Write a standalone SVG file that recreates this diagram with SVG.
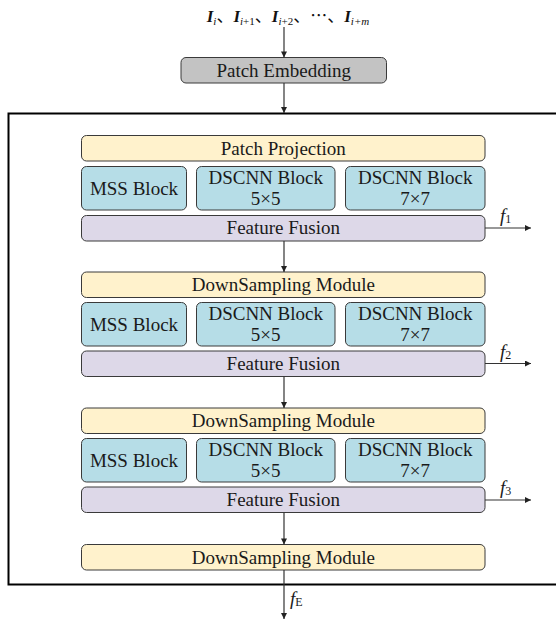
<svg xmlns="http://www.w3.org/2000/svg" width="556" height="620" viewBox="0 0 556 620">
  <style>
    text { font-family: 'Liberation Serif', 'DejaVu Serif', serif; }
    .lbl { font-size: 19px; fill: #1a1a1a; text-anchor: middle; }
    .seq { font-family: 'Liberation Serif', 'Noto Sans CJK SC', serif; font-size: 17px; fill: #111; }
    .fl { font-size: 19px; fill: #1a1a1a; }
    .box { stroke: #3a3a3a; stroke-width: 1; }
    .gray { fill: #c3c3c3; }
    .yel { fill: #fff2cc; }
    .blu { fill: #b6dde7; }
    .lav { fill: #ddd8e8; }
    .wire { stroke: #333; stroke-width: 1.2; fill: none; marker-end: url(#ah); }
  </style>
  <defs>
    <marker id="ah" viewBox="0 0 10 10" refX="10" refY="5" markerUnits="userSpaceOnUse" markerWidth="7" markerHeight="6" orient="auto">
      <path d="M0,0 L10,5 L0,10 z" fill="#222"/>
    </marker>
  </defs>
  <rect width="556" height="620" fill="#fff"/>

  <!-- input frame sequence -->
  <g id="input">
    <text class="seq" x="288" y="22" text-anchor="middle"><tspan font-weight="bold" font-style="italic">I</tspan><tspan font-size="11" font-style="italic" dy="3">i</tspan><tspan dy="-3">、</tspan><tspan font-weight="bold" font-style="italic">I</tspan><tspan font-size="11" dy="3"><tspan font-style="italic">i</tspan>+1</tspan><tspan dy="-3">、</tspan><tspan font-weight="bold" font-style="italic">I</tspan><tspan font-size="11" dy="3"><tspan font-style="italic">i</tspan>+2</tspan><tspan dy="-3">、⋯、</tspan><tspan font-weight="bold" font-style="italic">I</tspan><tspan font-size="11" font-style="italic" dy="3">i+m</tspan></text>
  </g>

  <!-- outer encoder frame -->
  <rect x="8.5" y="113.5" width="550" height="471" fill="none" stroke="#000" stroke-width="2"/>

  <g id="patch-embedding">
    <rect class="box gray" x="181" y="57.5" width="205.5" height="25.5" rx="5"/>
    <text class="lbl" x="283.7" y="76.5">Patch Embedding</text>
  </g>

  <!-- stage 1 -->
  <g id="patch-projection">
    <rect class="box yel" x="81.5" y="135.5" width="403.5" height="25.5" rx="5"/>
    <text class="lbl" x="283.3" y="154.5">Patch Projection</text>
  </g>
  <g id="mss-1">
    <rect class="box blu" x="81.5" y="166.5" width="105" height="43.5" rx="5"/>
    <text class="lbl" x="134" y="194.5">MSS Block</text>
  </g>
  <g id="dscnn5-1">
    <rect class="box blu" x="196.5" y="166.5" width="138.5" height="43.5" rx="5"/>
    <text class="lbl" x="265.7" y="183.5">DSCNN Block</text>
    <text class="lbl" x="265.7" y="205">5×5</text>
  </g>
  <g id="dscnn7-1">
    <rect class="box blu" x="345.5" y="166.5" width="139.5" height="43.5" rx="5"/>
    <text class="lbl" x="415.2" y="183.5">DSCNN Block</text>
    <text class="lbl" x="415.2" y="205">7×7</text>
  </g>
  <g id="fusion-1">
    <rect class="box lav" x="81.5" y="215.5" width="403.5" height="25.5" rx="5"/>
    <text class="lbl" x="283.3" y="234">Feature Fusion</text>
  </g>

  <!-- stage 2 -->
  <g id="downsample-2">
    <rect class="box yel" x="81.5" y="272" width="403.5" height="25.5" rx="5"/>
    <text class="lbl" x="283.3" y="291">DownSampling Module</text>
  </g>
  <g id="mss-2">
    <rect class="box blu" x="81.5" y="302.5" width="105" height="43.5" rx="5"/>
    <text class="lbl" x="134" y="330.5">MSS Block</text>
  </g>
  <g id="dscnn5-2">
    <rect class="box blu" x="196.5" y="302.5" width="138.5" height="43.5" rx="5"/>
    <text class="lbl" x="265.7" y="319.5">DSCNN Block</text>
    <text class="lbl" x="265.7" y="341">5×5</text>
  </g>
  <g id="dscnn7-2">
    <rect class="box blu" x="345.5" y="302.5" width="139.5" height="43.5" rx="5"/>
    <text class="lbl" x="415.2" y="319.5">DSCNN Block</text>
    <text class="lbl" x="415.2" y="341">7×7</text>
  </g>
  <g id="fusion-2">
    <rect class="box lav" x="81.5" y="351" width="403.5" height="25.5" rx="5"/>
    <text class="lbl" x="283.3" y="369.5">Feature Fusion</text>
  </g>

  <!-- stage 3 -->
  <g id="downsample-3">
    <rect class="box yel" x="81.5" y="408" width="403.5" height="25.5" rx="5"/>
    <text class="lbl" x="283.3" y="427">DownSampling Module</text>
  </g>
  <g id="mss-3">
    <rect class="box blu" x="81.5" y="438.5" width="105" height="43.5" rx="5"/>
    <text class="lbl" x="134" y="466.5">MSS Block</text>
  </g>
  <g id="dscnn5-3">
    <rect class="box blu" x="196.5" y="438.5" width="138.5" height="43.5" rx="5"/>
    <text class="lbl" x="265.7" y="455.5">DSCNN Block</text>
    <text class="lbl" x="265.7" y="477">5×5</text>
  </g>
  <g id="dscnn7-3">
    <rect class="box blu" x="345.5" y="438.5" width="139.5" height="43.5" rx="5"/>
    <text class="lbl" x="415.2" y="455.5">DSCNN Block</text>
    <text class="lbl" x="415.2" y="477">7×7</text>
  </g>
  <g id="fusion-3">
    <rect class="box lav" x="81.5" y="487" width="403.5" height="25.5" rx="5"/>
    <text class="lbl" x="283.3" y="505.5">Feature Fusion</text>
  </g>

  <!-- stage 4 -->
  <g id="downsample-4">
    <rect class="box yel" x="81.5" y="544.5" width="403.5" height="25.5" rx="5"/>
    <text class="lbl" x="283.3" y="563.5">DownSampling Module</text>
  </g>

  <!-- connectors -->
  <g id="connectors">
    <line class="wire" x1="284" y1="27" x2="284" y2="57.5"/>
    <line class="wire" x1="284" y1="83" x2="284" y2="113"/>
    <line class="wire" x1="284" y1="241" x2="284" y2="272"/>
    <line class="wire" x1="284" y1="376.5" x2="284" y2="408"/>
    <line class="wire" x1="284" y1="512.5" x2="284" y2="544.5"/>
    <line class="wire" x1="284" y1="570" x2="284" y2="619"/>
    <line class="wire" x1="485" y1="228" x2="531" y2="228"/>
    <line class="wire" x1="485" y1="363.5" x2="531" y2="363.5"/>
    <line class="wire" x1="485" y1="500" x2="531" y2="500"/>
  </g>

  <!-- feature output labels -->
  <g id="outputs">
    <text class="fl" x="500" y="222"><tspan font-style="italic">f</tspan><tspan font-size="12" dy="1">1</tspan></text>
    <text class="fl" x="500" y="357.5"><tspan font-style="italic">f</tspan><tspan font-size="12" dy="1">2</tspan></text>
    <text class="fl" x="500" y="494"><tspan font-style="italic">f</tspan><tspan font-size="12" dy="1">3</tspan></text>
    <text class="fl" x="290" y="605"><tspan font-style="italic">f</tspan><tspan font-size="12" dy="1">E</tspan></text>
  </g>
</svg>
